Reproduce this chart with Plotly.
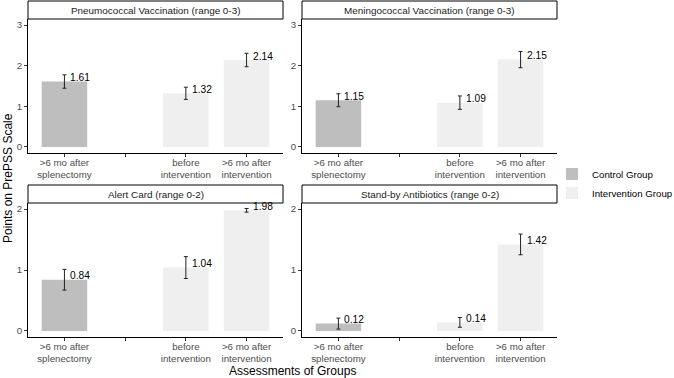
import plotly.graph_objects as go

# ---- data ----
panels = ["Pneumococcal Vaccination (range 0-3)", "Meningococcal Vaccination (range 0-3)",
          "Alert Card (range 0-2)", "Stand-by Antibiotics (range 0-2)"]
tick_labels = [">6 mo after<br>splenectomy", "", "before<br>intervention", ">6 mo after<br>intervention"]
control_vals = [1.61, 1.15, 0.84, 0.12]
control_err = [0.165, 0.16, 0.17, 0.09]
before_vals = [1.32, 1.09, 1.04, 0.14]
before_err = [0.15, 0.165, 0.18, 0.08]
after_vals = [2.14, 2.15, 1.98, 1.42]
after_err = [0.165, 0.20, 0.03, 0.17]
y_max = [3, 3, 2, 2]

CTRL = "#bebebe"
INTV = "#efefef"
FONT = "Liberation Sans"
W, H = 674, 378

# panel geometry in pixels (x0, x1, y0top, y1bottom)
geo = [(28, 283, 19, 153), (302, 557, 19, 153), (28, 283, 203, 337), (302, 557, 203, 337)]

fig = go.Figure()
shapes = []
annotations = []
for i in range(4):
    sfx = "" if i == 0 else str(i + 1)
    xa, ya = "x" + sfx, "y" + sfx
    fig.add_trace(go.Bar(
        x=[1], y=[control_vals[i]], width=0.75, marker=dict(color=CTRL, line=dict(width=0)),
        name="Control Group", legendgroup="c", showlegend=(i == 0),
        error_y=dict(type="data", array=[control_err[i]], color="#222", thickness=1, width=2),
        xaxis=xa, yaxis=ya, hoverinfo="skip"))
    fig.add_trace(go.Bar(
        x=[3, 4], y=[before_vals[i], after_vals[i]], width=0.75, marker=dict(color=INTV, line=dict(width=0)),
        name="Intervention Group", legendgroup="i", showlegend=(i == 0),
        error_y=dict(type="data", array=[before_err[i], after_err[i]], color="#222", thickness=1, width=2),
        xaxis=xa, yaxis=ya, hoverinfo="skip"))
    x0, x1, yt, yb = geo[i]
    ymx = y_max[i]
    fig.layout["xaxis" + sfx] = dict(
        domain=[x0 / W, x1 / W], anchor=ya, range=[0.4, 4.6], automargin=False,
        tickvals=[1, 2, 3, 4], ticktext=tick_labels, ticks="outside", ticklen=3, tickcolor="#333",
        ticklabelstandoff=-3,
        showline=True, linecolor="black", linewidth=1, showgrid=False, zeroline=False,
        tickfont=dict(size=9.7, color="#4d4d4d", family=FONT), fixedrange=True)
    fig.layout["yaxis" + sfx] = dict(
        domain=[1 - yb / H, 1 - yt / H], anchor=xa, range=[-0.05 * ymx, ymx * 1.05], automargin=False,
        tickvals=list(range(ymx + 1)), ticks="outside", ticklen=3, tickcolor="#333",
        showline=True, linecolor="black", linewidth=1, showgrid=False, zeroline=False,
        tickfont=dict(size=9.7, color="#4d4d4d", family=FONT), fixedrange=True)
    # strip
    shapes.append(dict(type="rect", xref="paper", yref="paper",
                       x0=x0 / W, x1=x1 / W, y0=1 - yt / H, y1=1 - (yt - 18) / H,
                       fillcolor="white", line=dict(color="black", width=1)))
    annotations.append(dict(xref="paper", yref="paper", x=(x0 + x1) / 2 / W, y=1 - (yt - 9) / H,
                            text=panels[i], showarrow=False, xanchor="center", yanchor="middle",
                            font=dict(size=9.9, color="#1a1a1a", family=FONT)))
    for xv, yv in zip([1, 3, 4], [control_vals[i], before_vals[i], after_vals[i]]):
        annotations.append(dict(xref=xa, yref=ya, x=xv, y=yv, text=f"{yv:.2f}", showarrow=False,
                                xanchor="left", yanchor="middle", xshift=4, yshift=4,
                                font=dict(size=10.2, color="black", family=FONT)))

annotations.append(dict(xref="paper", yref="paper", x=8 / W, y=1 - 178 / H, text="Points on PrePSS Scale",
                        textangle=-90, showarrow=False, xanchor="center", yanchor="middle",
                        font=dict(size=12, color="black", family=FONT)))
annotations.append(dict(xref="paper", yref="paper", x=292.5 / W, y=1 - 370.5 / H, text="Assessments of Groups",
                        showarrow=False, xanchor="center", yanchor="middle",
                        font=dict(size=12, color="black", family=FONT)))

fig.update_layout(
    width=W, height=H, margin=dict(l=0, r=0, t=0, b=0, autoexpand=False),
    paper_bgcolor="white", plot_bgcolor="white",
    barmode="overlay", shapes=shapes, annotations=annotations,
    legend=dict(x=552 / W, y=1 - 183.5 / H, xanchor="left", yanchor="middle",
                font=dict(size=9.7, color="black", family=FONT), tracegroupgap=0,
                itemwidth=30, bgcolor="rgba(0,0,0,0)"),
    showlegend=True,
)
fig.write_html("out.html", config={"displayModeBar": False},
               post_script="document.body.style.margin='0';document.body.style.overflow='hidden';")
